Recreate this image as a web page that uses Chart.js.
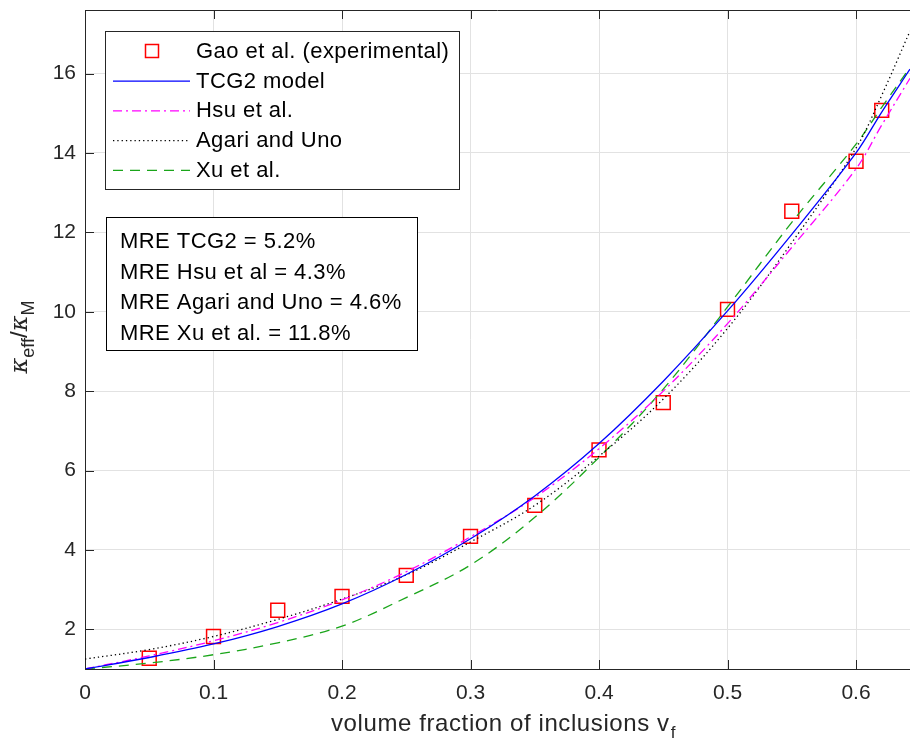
<!DOCTYPE html>
<html><head><meta charset="utf-8">
<script src="https://cdn.jsdelivr.net/npm/chart.js@4.4.0/dist/chart.umd.min.js"></script>
<style>html,body{margin:0;padding:0;background:#fff}</style>
</head><body>
<canvas id="c" width="910" height="747"></canvas>
<script>
// ---- data ----
const xExp = [0.05, 0.10, 0.15, 0.20, 0.25, 0.30, 0.35, 0.40, 0.45, 0.50, 0.55, 0.60, 0.62];
const yExp = [1.27, 1.82, 2.48, 2.83, 3.36, 4.34, 5.12, 6.52, 7.71, 10.06, 12.53, 13.79, 15.07];

const xModel = [0, 0.05, 0.10, 0.15, 0.20, 0.25, 0.30, 0.35, 0.40, 0.45, 0.50, 0.55, 0.60, 0.62, 0.642];
const yTCG2  = [1.00, 1.29, 1.63, 2.07, 2.64, 3.38, 4.28, 5.36, 6.68, 8.25, 10.02, 11.95, 14.00, 15.03, 16.11];
const yHsu   = [1.00, 1.33, 1.71, 2.17, 2.74, 3.45, 4.33, 5.32, 6.55, 8.00, 9.70, 11.62, 13.60, 14.70, 15.88];
const yAgari = [1.25, 1.49, 1.82, 2.25, 2.76, 3.37, 4.20, 5.12, 6.36, 7.80, 9.58, 11.74, 14.12, 15.45, 17.07];
const yXu    = [1.00, 1.15, 1.36, 1.66, 2.08, 2.80, 3.62, 4.82, 6.33, 8.05, 10.12, 12.25, 14.22, 15.15, 16.15];

const xTicks = [0, 0.1, 0.2, 0.3, 0.4, 0.5, 0.6];
const xTickLabels = ['0', '0.1', '0.2', '0.3', '0.4', '0.5', '0.6'];
const yTicks = [2, 4, 6, 8, 10, 12, 14, 16];
const yTickLabels = ['2', '4', '6', '8', '10', '12', '14', '16'];

const seriesNames = ['Gao et al. (experimental)', 'TCG2 model', 'Hsu et al.', 'Agari and Uno', 'Xu et al.'];
const mreLines = ['MRE TCG2 = 5.2%', 'MRE Hsu et al = 4.3%', 'MRE Agari and Uno = 4.6%', 'MRE Xu et al. = 11.8%'];
const xTitle = 'volume fraction of inclusions v';
const xTitleSub = 'f';

// ---- build ----
const pts = (xs, ys) => xs.map((x, i) => ({x: x, y: ys[i]}));
const FONT = '"Liberation Sans", Arial, Helvetica, sans-serif';
const AX = '#262626';

const lineDS = (label, ys, color, dash) => ({
  label, data: pts(xModel, ys), showLine: true, borderColor: color, backgroundColor: color,
  borderWidth: 1.3, borderDash: dash, pointRadius: 0, pointHoverRadius: 0,
  tension: 0.35, fill: false
});

const datasets = [
  lineDS(seriesNames[1], yTCG2, '#0000ff', []),
  lineDS(seriesNames[2], yHsu, '#ff00ff', [9, 4, 2, 4]),
  lineDS(seriesNames[3], yAgari, '#000000', [1.3, 3]),
  lineDS(seriesNames[4], yXu, '#1aa51a', [10, 7]),
  { label: seriesNames[0], data: pts(xExp, yExp), showLine: false, pointStyle: 'rect',
    pointRadius: 9.8, pointBorderWidth: 1.5, pointBorderColor: '#ff0000',
    pointBackgroundColor: 'rgba(0,0,0,0)', borderColor: '#ff0000' }
];

const zeroPad = s => { s.paddingTop = 0; s.paddingBottom = 0; s.paddingLeft = 0; s.paddingRight = 0; };

const decor = {
  id: 'decor',
  afterDraw(chart) {
    const ctx = chart.ctx, ca = chart.chartArea;
    const xs = chart.scales.x, ys = chart.scales.y;
    ctx.save();
    // top border
    ctx.strokeStyle = AX; ctx.lineWidth = 1;
    ctx.beginPath(); ctx.moveTo(ca.left, Math.round(ca.top) + 0.5); ctx.lineTo(ca.right, Math.round(ca.top) + 0.5); ctx.stroke();
    // inward ticks
    ctx.beginPath();
    xTicks.forEach(v => {
      const px = Math.round(xs.getPixelForValue(v)) + 0.5;
      ctx.moveTo(px, ca.bottom); ctx.lineTo(px, ca.bottom - 9);
      ctx.moveTo(px, ca.top); ctx.lineTo(px, ca.top + 9);
    });
    yTicks.forEach(v => {
      const py = Math.round(ys.getPixelForValue(v)) + 0.5;
      ctx.moveTo(ca.left, py); ctx.lineTo(ca.left + 9, py);
    });
    ctx.stroke();

    // legend box
    const ds = chart.data.datasets;
    const order = [4, 0, 1, 2, 3];
    const lx0 = 105, ly0 = 31, lw = 354, lh = 158;
    ctx.fillStyle = '#fff'; ctx.fillRect(lx0, ly0, lw, lh);
    ctx.strokeStyle = AX; ctx.lineWidth = 1;
    ctx.strokeRect(lx0 + 0.5, ly0 + 0.5, lw, lh);
    ctx.font = '22px ' + FONT; ctx.textBaseline = 'middle'; ctx.textAlign = 'left';
    ctx.letterSpacing = '0.45px';
    order.forEach((di, r) => {
      const y = 51 + r * 29.7;
      const d = ds[di];
      if (di === 4) {
        ctx.setLineDash([]); ctx.strokeStyle = '#ff0000'; ctx.lineWidth = 1.5;
        ctx.strokeRect(145.5, y - 6.5, 13, 13);
      } else {
        ctx.setLineDash(d.borderDash); ctx.strokeStyle = d.borderColor; ctx.lineWidth = 1.3;
        ctx.beginPath(); ctx.moveTo(113, y + 0.5); ctx.lineTo(190, y + 0.5); ctx.stroke();
      }
      ctx.setLineDash([]);
      ctx.fillStyle = '#000';
      ctx.fillText(d.label, 196, y + 1);
    });

    // MRE box
    const bx = 106, by = 217, bw = 311, bh = 133;
    ctx.fillStyle = '#fff'; ctx.fillRect(bx, by, bw, bh);
    ctx.strokeStyle = '#000'; ctx.lineWidth = 1;
    ctx.strokeRect(bx + 0.5, by + 0.5, bw, bh);
    ctx.fillStyle = '#000';
    mreLines.forEach((t, i) => ctx.fillText(t, 120, 242 + i * 30.5));

    // x title
    ctx.fillStyle = AX;
    ctx.letterSpacing = '0.6px';
    ctx.font = '24px ' + FONT; ctx.textBaseline = 'alphabetic';
    const wMain = ctx.measureText(xTitle).width;
    ctx.font = '17px ' + FONT;
    const wSub = ctx.measureText(xTitleSub).width;
    const tx = 503 - (wMain + wSub) / 2;
    ctx.font = '24px ' + FONT; ctx.fillText(xTitle, tx, 731);
    ctx.font = '17px ' + FONT; ctx.fillText(xTitleSub, tx + wMain + 1, 738);
    ctx.letterSpacing = '0px';

    // y title
    ctx.save();
    ctx.translate(27, 337);
    ctx.rotate(-Math.PI / 2);
    const parts = [
      {t: 'κ', f: 'italic 24px "DejaVu Serif", serif', dy: 0},
      {t: 'eff', f: '18px ' + FONT, dy: 7},
      {t: '/', f: '24px ' + FONT, dy: 0},
      {t: 'κ', f: 'italic 24px "DejaVu Serif", serif', dy: 0},
      {t: 'M', f: '18px ' + FONT, dy: 7}
    ];
    let total = 0;
    parts.forEach(p => { ctx.font = p.f; p.w = ctx.measureText(p.t).width; total += p.w; });
    let cx = -total / 2;
    parts.forEach(p => { ctx.font = p.f; ctx.fillText(p.t, cx, p.dy); cx += p.w; });
    ctx.restore();

    ctx.restore();
  }
};

new Chart(document.getElementById('c'), {
  type: 'scatter',
  data: { datasets },
  options: {
    responsive: false, animation: false, devicePixelRatio: 1,
    layout: { autoPadding: false, padding: { top: 10, right: 0, left: 0, bottom: 0 } },
    plugins: { legend: { display: false }, tooltip: { enabled: false } },
    scales: {
      x: {
        type: 'linear', min: 0, max: 0.642,
        afterBuildTicks: s => { s.ticks = xTicks.map(v => ({ value: v })); },
        afterFit: s => { s.height = 78; zeroPad(s); },
        ticks: { color: AX, font: { size: 21, family: FONT }, padding: 12, maxRotation: 0,
                 callback: (v, i) => xTickLabels[i] },
        grid: { color: '#e2e2e2', lineWidth: 1, drawTicks: false },
        border: { color: AX, width: 1 }
      },
      y: {
        type: 'linear', min: 1, max: 17.6,
        afterBuildTicks: s => { s.ticks = yTicks.map(v => ({ value: v })); },
        afterFit: s => { s.width = 85; zeroPad(s); },
        ticks: { color: AX, font: { size: 21, family: FONT }, padding: 9,
                 callback: (v, i) => yTickLabels[i] },
        grid: { color: '#e2e2e2', lineWidth: 1, drawTicks: false },
        border: { color: AX, width: 1 }
      }
    }
  },
  plugins: [decor]
});
</script>
</body></html>
